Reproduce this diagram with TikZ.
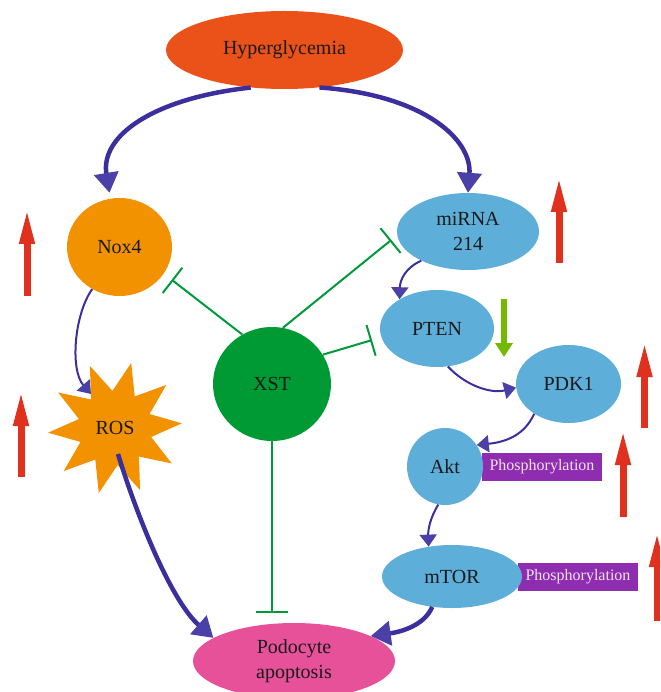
\documentclass[tikz,border=0pt]{standalone}
\usepackage{fontspec}
\setmainfont{Liberation Serif}
\newfontfamily\serifA{Liberation Serif}
\usetikzlibrary{shapes.geometric,arrows.meta}
\definecolor{hypC}{HTML}{EB5219}
\definecolor{orgC}{HTML}{F39200}
\definecolor{bluC}{HTML}{5DAED9}
\definecolor{xstC}{HTML}{009A35}
\definecolor{inhC}{HTML}{00993B}
\definecolor{pinkC}{HTML}{E6519A}
\definecolor{purpC}{HTML}{8E2DB0}
\definecolor{arrC}{HTML}{3B2F9E}
\definecolor{headC}{HTML}{4A40A8}
\definecolor{redC}{HTML}{E0301E}
\definecolor{limeC}{HTML}{74B800}
\definecolor{txtC}{HTML}{1A1A1A}
\definecolor{phosTxt}{HTML}{F3E3F5}
\begin{document}
\begin{tikzpicture}[x=1pt,y=-1pt,
  lbl/.style={font=\serifA\fontsize{20}{25.5}\selectfont, text=txtC, align=center},
  ell/.style={ellipse, inner sep=0pt, lbl},
  phos/.style={rectangle, fill=purpC, text=phosTxt, font=\serifA\fontsize{16}{19}\selectfont, minimum width=120pt, minimum height=28pt, inner sep=0pt},
  bigarr/.style={draw=arrC, line width=4.5pt, -{Triangle[length=20pt,width=24pt,color=headC]}},
  smallarr/.style={draw=arrC, line width=2pt, -{Triangle[length=12pt,width=17pt,color=headC]}},
  inhib/.style={draw=inhC, line width=2pt, -{Bar[width=32pt]}},
  upind/.style={draw=redC, line width=7pt, -{Triangle[length=36pt,width=14pt]}},
  downind/.style={draw=limeC, line width=6.3pt, -{Triangle[length=14pt,width=17pt]}}
]
\useasboundingbox (0,0) rectangle (660,692);
\clip (0,0) rectangle (660,692);

% phosphorylation boxes (behind ellipses)
\node[phos] (ph1) at (542,467) {Phosphorylation};
\node[phos] (ph2) at (578,577) {Phosphorylation};

% nodes
\node[ell, fill=hypC, minimum width=237pt, minimum height=78pt] (hyper) at (284.5,50) {Hyperglycemia};
\node[ell, fill=orgC, minimum width=105pt, minimum height=98pt] (nox) at (119.5,247) {Nox4};
\node[ell, fill=bluC, minimum width=142pt, minimum height=77pt] (mirna) at (468,231.5) {miRNA\\214};
\node[ell, fill=bluC, minimum width=114pt, minimum height=77pt] (pten) at (437,328.5) {PTEN};
\node[ell, fill=bluC, minimum width=105pt, minimum height=78pt] (pdk) at (568.5,384) {PDK1};
\node[ell, fill=bluC, minimum width=76pt, minimum height=77pt] (akt) at (445,466.5) {Akt};
\node[ell, fill=bluC, minimum width=140pt, minimum height=63pt] (mtor) at (452,576.5) {mTOR};
\node[ell, fill=xstC, minimum width=118pt, minimum height=114pt] (xst) at (272,384) {XST};
\node[ell, fill=pinkC, minimum width=202pt, minimum height=76pt] (pod) at (294,661) {Podocyte\\apoptosis};
\node[star, star points=10, star point ratio=1.8, minimum size=134pt, inner sep=0pt,
      shape border rotate=-14, fill=orgC, lbl] (ros) at (115,428) {ROS};

% activation arrows
\draw[bigarr] (hyper.228) .. controls (155,98) and (100,135) .. ([xshift=-10pt,yshift=5pt]nox.north);
\draw[bigarr] (hyper.313) .. controls (425,95) and (472,140) .. (mirna.north);
\draw[smallarr] (nox.237) .. controls (74,315) and (70,370) .. ([shift={(-24,-34)}]ros.center);
\draw[smallarr] (mirna.212) .. controls (405,268) and (400,280) .. (pten.142);
\draw[smallarr] (pten.286) .. controls (465,385) and (490,394) .. (pdk.184);
\draw[smallarr] (pdk.221) .. controls (524,436) and (505,442) .. (akt.34);
\draw[smallarr] (akt.260) .. controls (430,518) and (428,530) .. (mtor.128);
\draw[bigarr] (mtor.237) .. controls (424,626) and (400,632) .. (pod.18);
\draw[bigarr] ([shift={(3,26)}]ros.center) .. controls (135,510) and (170,600) .. (pod.164);

% inhibition
\draw[inhib, shorten >=10pt] (xst.121) -- (nox.329);
\draw[inhib, shorten >=7.5pt] (xst.79) -- (mirna.183);
\draw[inhib, shorten >=9.7pt] (xst.30) -- (pten.189);
\draw[inhib, shorten >=10pt] (xst.south) -- (xst.south |- pod.north);

% level indicators
\coordinate (r1s) at (27,296);   \coordinate (r1e) at (27,208);
\coordinate (r2s) at (21,477);   \coordinate (r2e) at (21,390);
\coordinate (r3s) at (559,263);  \coordinate (r3e) at (559,176);
\coordinate (r4s) at (644.5,428);\coordinate (r4e) at (644.5,341);
\coordinate (r5s) at (623,517);  \coordinate (r5e) at (623,429);
\coordinate (r6s) at (657,621);  \coordinate (r6e) at (657,531);
\coordinate (g1s) at (504,299);  \coordinate (g1e) at (504,357);
\draw[upind] (r1s) -- (r1e);
\draw[upind] (r2s) -- (r2e);
\draw[upind] (r3s) -- (r3e);
\draw[upind] (r4s) -- (r4e);
\draw[upind] (r5s) -- (r5e);
\draw[upind] (r6s) -- (r6e);
\draw[downind] (g1s) -- (g1e);
\end{tikzpicture}
\end{document}
